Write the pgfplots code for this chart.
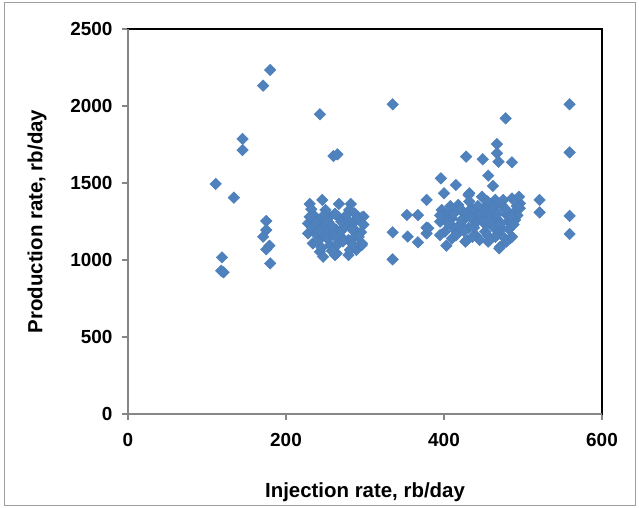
\documentclass[border=0pt]{standalone}
\usepackage{pgfplots}
\pgfplotsset{compat=1.18}
\usepackage{fontspec}
\setmainfont{Liberation Sans}
\definecolor{mk}{HTML}{4F81BD}
\definecolor{mkd}{HTML}{4A7EBB}
\definecolor{ax}{HTML}{868686}
\begin{document}
\begin{tikzpicture}[x=1bp,y=1bp]
\path[use as bounding box] (0,0) rectangle (639,508);
\draw[ax!80,line width=1bp] (4,2.5) rectangle (635,505.5);
\begin{axis}[
  at={(128bp,94bp)}, anchor=origin,
  scale only axis, width=474bp, height=385bp,
  xmin=0, xmax=600, ymin=0, ymax=2500,
  xtick={0,200,400,600}, ytick={0,500,1000,1500,2000,2500},
  xtick pos=left, ytick pos=left,
  tick align=outside, major tick length=6bp,
  every tick/.style={ax, line width=1.5bp},
  axis line style={black, line width=1.5bp},
  /pgf/number format/assume math mode=true,
  /pgf/number format/1000 sep={},
  tick label style={font=\fontsize{19}{22}\selectfont\bfseries},
  xticklabel style={yshift=-10bp},
  yticklabel style={xshift=-6bp},
  xlabel={Injection rate, rb/day},
  ylabel={Production rate, rb/day},
  label style={font=\fontsize{20.5}{24}\selectfont\bfseries},
  xlabel style={at={(axis description cs:0.5,-0.203)}, anchor=center},
  ylabel style={at={(axis description cs:-0.192,0.5)}, anchor=center, rotate=0},
  clip=false,
]
\addplot[only marks, mark=square*, mark size=4.1bp,
  mark options={rotate=45, fill=mk, draw=mkd, line width=0.4bp}]
coordinates {
(111,1494)(134,1405)(145,1786)(145,1714)(171,2132)(180,2234)
(119,1017)(118,930)(121,920)(175,1253)(175,1195)(171,1151)(179,1093)(175,1069)(180,978)
(243,1946)(260,1675)(265,1686)
(230,1364)(246,1390)(267,1364)(282,1364)(298,1281)(235,1292)(228,1238)(228,1173)
(234,1108)(243,1054)(247,1238)(245,1151)(256,1097)(262,1032)(266,1281)(264,1195)
(275,1216)(279,1130)(279,1032)(287,1303)(287,1195)(296,1108)(289,1065)(258,1173)
(255,1281)(237,1173)(247,1021)(264,1043)(281,1065)(296,1277)(296,1097)
(240,1260)(250,1200)(270,1250)(285,1240)(295,1180)(270,1150)(252,1140)(240,1120)
(285,1140)(265,1100)(278,1260)(233,1210)(250,1325)(280,1325)
(232,1330)(238,1240)(242,1190)(248,1290)(253,1250)(258,1220)(262,1300)(268,1180)
(272,1120)(276,1290)(283,1200)(290,1270)(292,1150)(298,1230)(245,1080)(258,1060)
(285,1100)(262,1150)(230,1280)
(335,2011)(335,1180)(335,1004)
(353,1292)(367,1292)(354,1152)(367,1115)(378,1210)(378,1173)(378,1390)
(396,1530)(415,1487)(400,1433)(432,1433)(428,1671)(449,1654)(456,1548)(462,1481)
(467,1753)(467,1693)(469,1638)(486,1634)(478,1920)
(380,1206)(431,1422)(448,1411)(465,1390)(486,1400)(496,1368)(397,1325)(418,1357)
(435,1336)(452,1346)(473,1357)(490,1314)(395,1249)(410,1271)(427,1271)(448,1271)
(465,1271)(481,1249)(401,1184)(416,1184)(431,1206)(452,1184)(469,1184)(395,1162)
(403,1093)(427,1119)(456,1119)(471,1086)(484,1141)(441,1292)(420,1230)(453,1227)
(473,1206)(429,1130)(470,1076)(479,1119)(486,1151)(495,1411)(496,1336)(493,1290)
(437,1325)(405,1300)(425,1310)(460,1310)(480,1290)(410,1220)(440,1240)(460,1240)
(490,1260)(440,1160)(465,1150)(410,1140)(445,1130)
(400,1280)(405,1240)(412,1300)(415,1160)(420,1330)(422,1260)(425,1190)(433,1280)
(436,1150)(438,1210)(443,1350)(447,1300)(450,1250)(455,1160)(458,1290)(462,1340)
(463,1210)(468,1300)(472,1240)(475,1150)(478,1330)(482,1200)(485,1280)(488,1230)
(492,1350)(432,1380)(455,1380)(408,1350)(395,1290)(475,1390)
(521,1390)(521,1309)(559,2011)(559,1699)(559,1286)(559,1169)
};
\draw[ax, line width=2bp] (rel axis cs:0,1) |- (rel axis cs:1,0);
\end{axis}
\end{tikzpicture}
\end{document}
